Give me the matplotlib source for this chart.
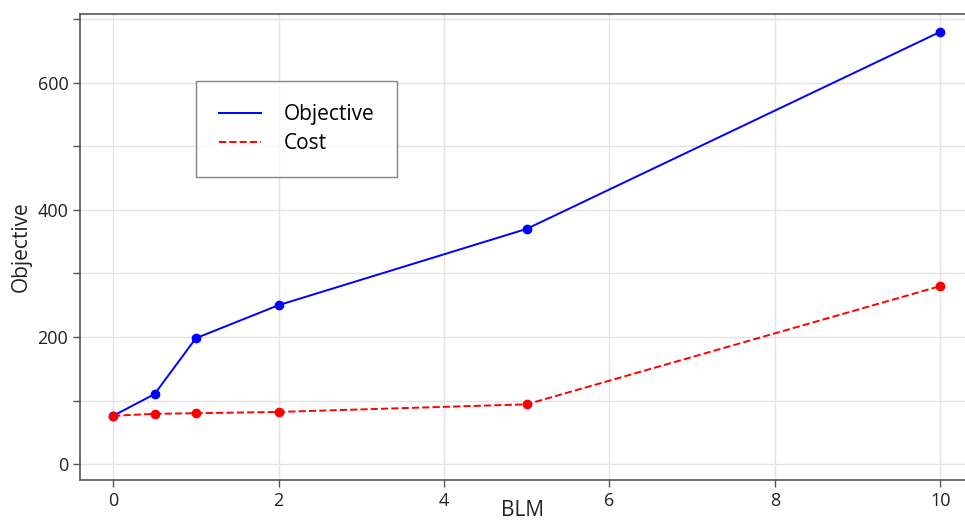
import matplotlib.pyplot as plt
from matplotlib.ticker import MultipleLocator

plt.rcParams['font.family'] = ['Open Sans', 'DejaVu Sans']

# Data
blm = [0, 0.5, 1, 2, 5, 10]
objective = [76, 110, 198, 250, 370, 680]
cost = [76, 79, 80, 82, 94, 280]

fig = plt.figure(figsize=(9.65, 5.2), dpi=100)
ax = fig.add_axes([0.083, 0.077, 0.917, 0.896])

ax.plot(blm, objective, color='blue', linestyle='-', linewidth=1.4,
        marker='o', markersize=6, label='Objective')
ax.plot(blm, cost, color='red', linestyle='--', linewidth=1.4,
        marker='o', markersize=6, label='Cost')

ax.set_xlim(-0.4, 10.3)
ax.set_ylim(-25, 708)
ax.xaxis.set_major_locator(MultipleLocator(2))
ax.yaxis.set_major_locator(MultipleLocator(200))
ax.yaxis.set_minor_locator(MultipleLocator(100))

ax.grid(True, which='major', color='#e3e3e3', linewidth=1)
ax.grid(True, which='minor', axis='y', color='#e3e3e3', linewidth=1)
ax.set_axisbelow(True)

for side in ['left', 'bottom', 'top']:
    ax.spines[side].set_color('#555555')
    ax.spines[side].set_linewidth(1.2)
ax.spines['right'].set_visible(False)

ax.tick_params(axis='both', which='both', colors='#555555', labelcolor='#222222',
               labelsize=13, length=5, width=1)

ax.set_xlabel('BLM', fontsize=15, color='#222222', labelpad=-7)
ax.set_ylabel('Objective', fontsize=15, color='#222222', labelpad=4)

leg = ax.legend(loc='upper left', bbox_to_anchor=(0.131, 0.856), fontsize=15,
                frameon=True, fancybox=False, edgecolor='#666666',
                handlelength=2.0, borderpad=1.1, labelspacing=0.4,
                handletextpad=1.1, borderaxespad=0)
leg.get_frame().set_linewidth(1)
for h in leg.legend_handles:
    h.set_marker('')

fig.savefig('out.png', dpi=100)
